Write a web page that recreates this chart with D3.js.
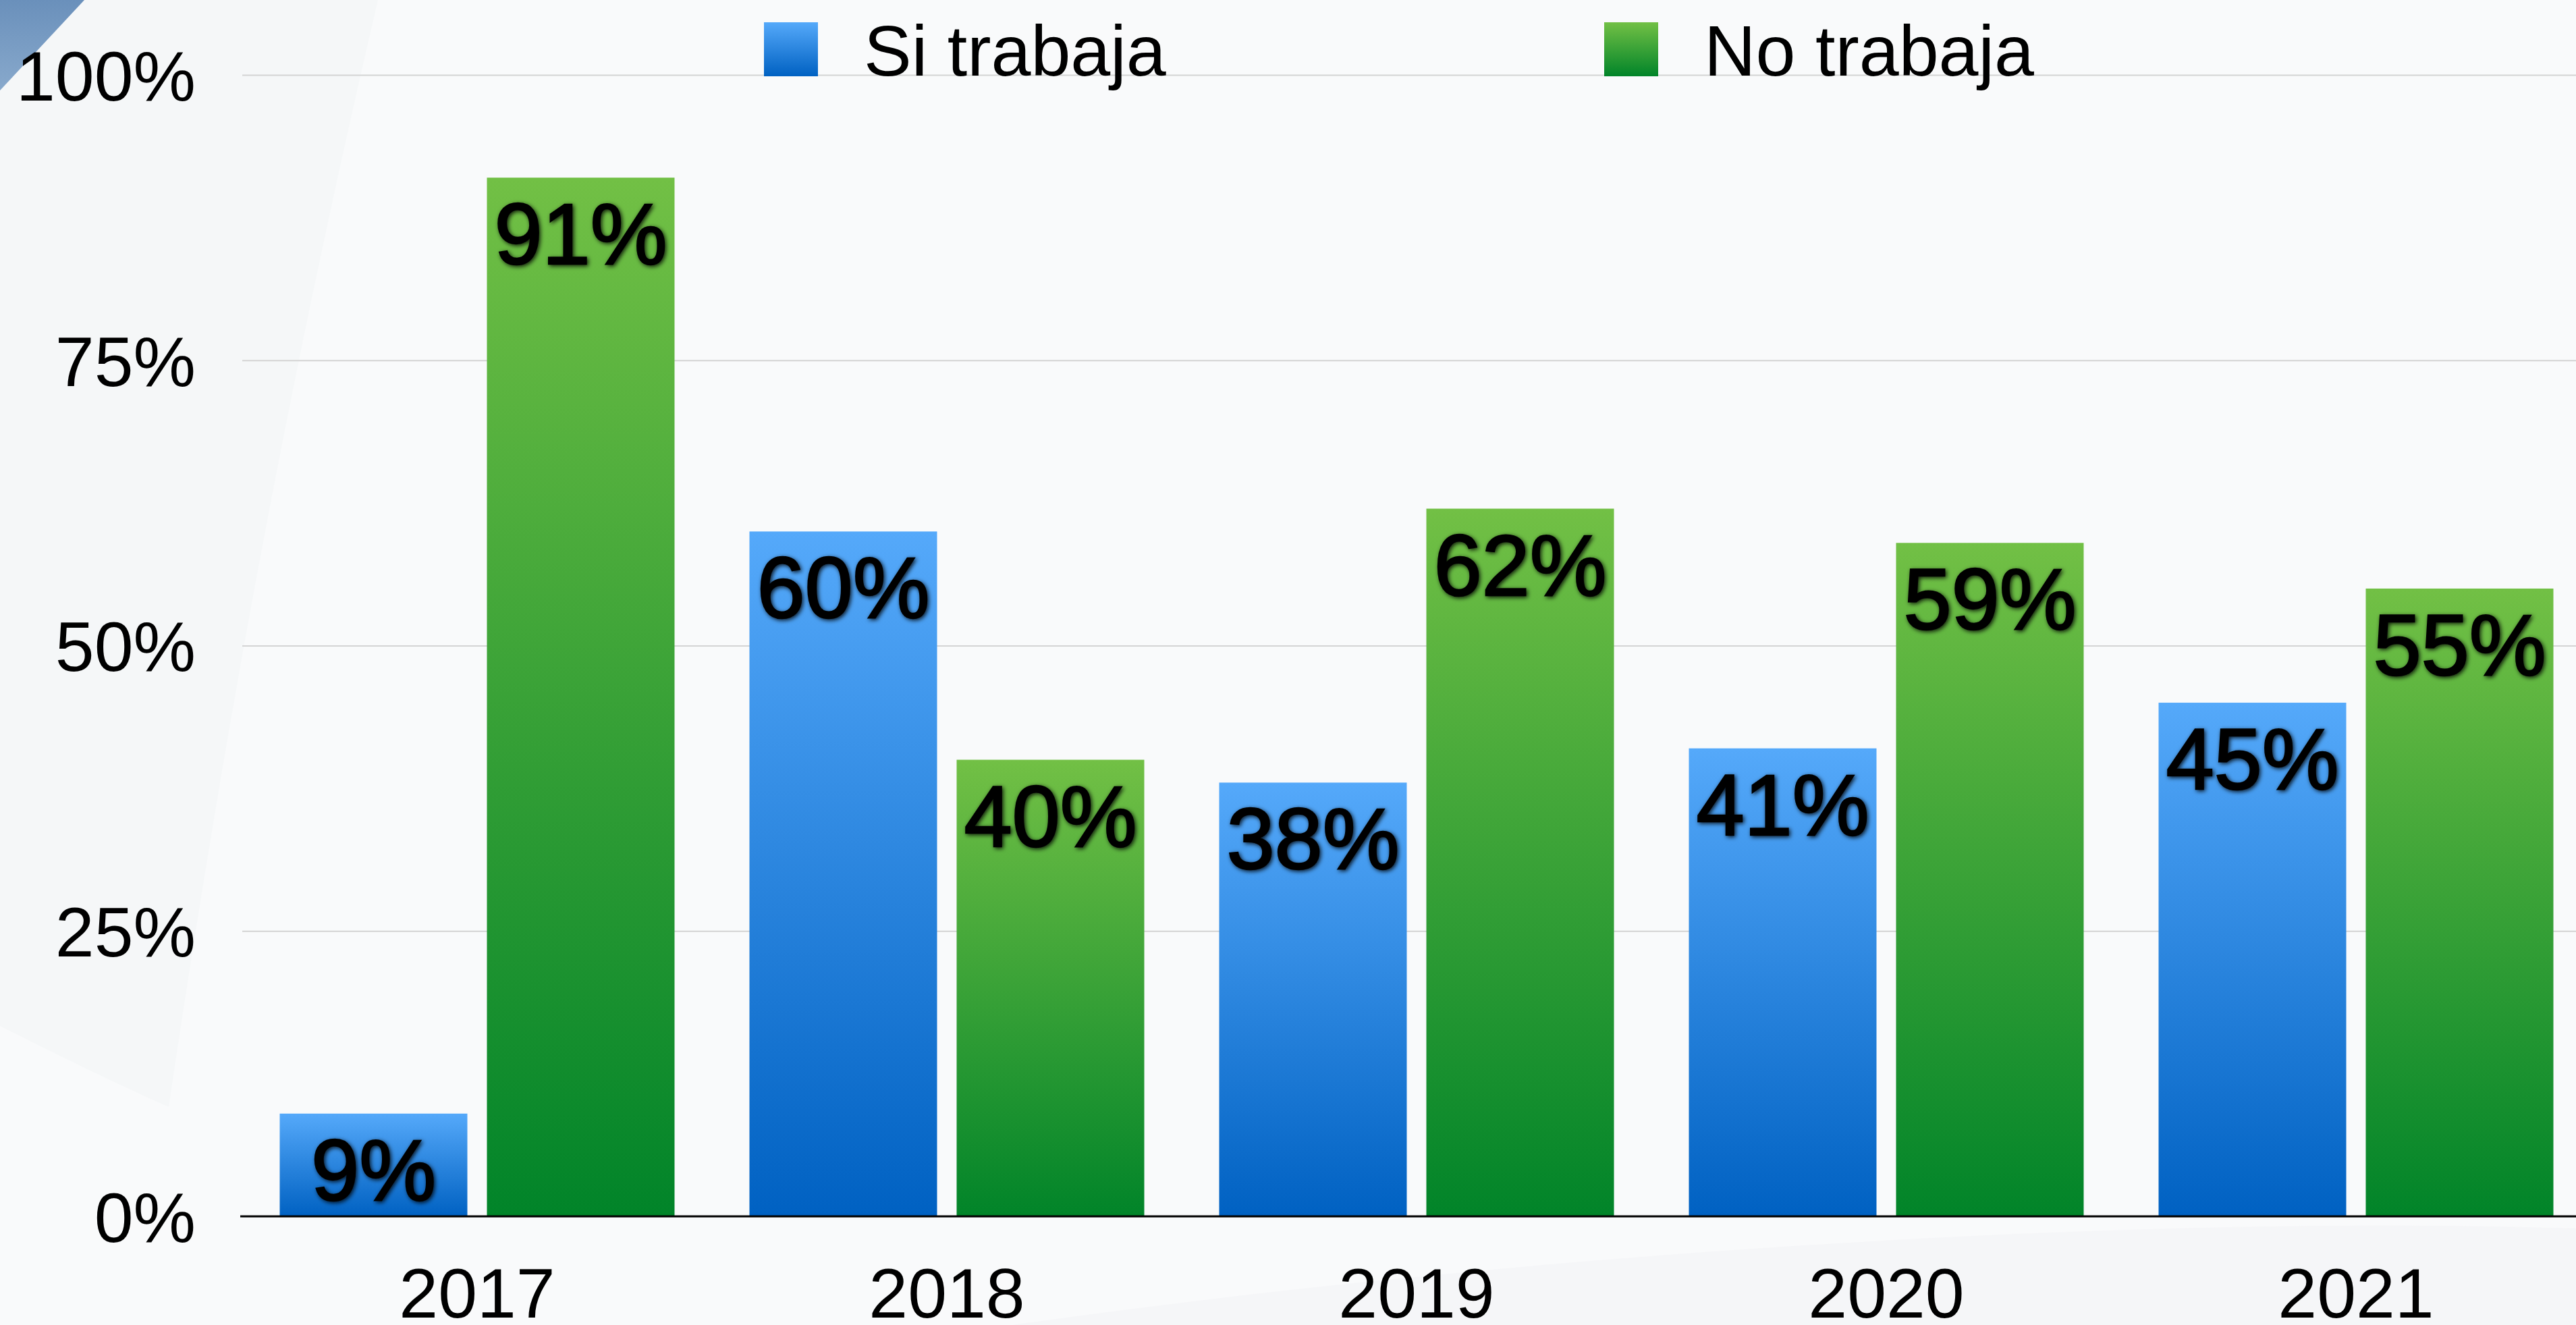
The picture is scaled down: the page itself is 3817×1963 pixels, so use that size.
<!DOCTYPE html>
<html>
<head>
<meta charset="utf-8">
<script src="https://cdn.jsdelivr.net/npm/d3@7"></script>
<style>
  html, body { margin: 0; padding: 0; overflow: hidden; background: #f8f9fa; }
  text { font-family: "Liberation Sans", Arial, Helvetica, sans-serif; }
</style>
</head>
<body>
<div id="chart"></div>
<script>
// data
var years = ["2017", "2018", "2019", "2020", "2021"];
var seriesNames = ["Si trabaja", "No trabaja"];
var siTrabaja = [9, 60, 38, 41, 45];
var noTrabaja = [91, 40, 62, 59, 55];
var yTicks = [0, 25, 50, 75, 100];

var W = 3817, H = 1963;
var margin = { top: 111, left: 359, bottom: 161 };
var plotBottom = H - margin.bottom; // 1802

var svg = d3.select("#chart").append("svg")
    .attr("width", W)
    .attr("height", H);

var defs = svg.append("defs");

// bar gradients (top light -> bottom dark)
function addGrad(id, top, bottom) {
    var g = defs.append("linearGradient")
        .attr("id", id)
        .attr("x1", 0).attr("y1", 0)
        .attr("x2", 0).attr("y2", 1);
    g.append("stop").attr("offset", "0%").attr("stop-color", top);
    g.append("stop").attr("offset", "100%").attr("stop-color", bottom);
}
addGrad("gBlue", "#55a9fa", "#0061c2");
addGrad("gGreen", "#72c045", "#018429");
addGrad("gCorner", "#6a90bb", "#88a9cc");

var shadow = defs.append("filter")
    .attr("id", "lblShadow")
    .attr("x", "-20%").attr("y", "-20%")
    .attr("width", "140%").attr("height", "140%");
shadow.append("feDropShadow")
    .attr("dx", 2).attr("dy", 2)
    .attr("stdDeviation", 3)
    .attr("flood-color", "#000")
    .attr("flood-opacity", 0.85);

// background: faint shapes + blue corner
svg.append("rect").attr("width", W).attr("height", H).attr("fill", "#f9fafb");
svg.append("path")
    .attr("d", "M0,0 L560,0 C420,600 330,1100 250,1640 C160,1600 80,1560 0,1520 Z")
    .attr("fill", "#f4f6f8")
    .attr("opacity", 0.8);
svg.append("path")
    .attr("d", "M1500,1963 C2300,1850 3200,1800 3817,1820 L3817,1963 Z")
    .attr("fill", "#f3f4f6")
    .attr("opacity", 0.7);
svg.append("path")
    .attr("d", "M0,0 L125,0 L0,134 Z")
    .attr("fill", "url(#gCorner)");

// scales
var x0 = d3.scaleBand()
    .domain(years)
    .range([margin.left, margin.left + 5 * 696])
    .paddingInner(111 / 696)
    .paddingOuter(55.5 / 696);

var x1 = d3.scaleBand()
    .domain(seriesNames)
    .range([0, x0.bandwidth()])
    .paddingInner(29 / 307)
    .paddingOuter(0);

var y = d3.scaleLinear()
    .domain([0, 100])
    .range([plotBottom, margin.top]);

var color = d3.scaleOrdinal()
    .domain(seriesNames)
    .range(["url(#gBlue)", "url(#gGreen)"]);

// y axis + gridlines
var yAxis = svg.append("g")
    .attr("transform", "translate(" + margin.left + ",0)")
    .call(d3.axisLeft(y)
        .tickValues(yTicks)
        .tickFormat(function (d) { return d + "%"; })
        .tickSize(-(W - margin.left))
        .tickPadding(69));
yAxis.select(".domain").remove();
yAxis.selectAll(".tick line")
    .attr("stroke", "#d4d4d4")
    .attr("stroke-width", 2);
yAxis.selectAll(".tick text")
    .attr("font-size", 104)
    .attr("fill", "#000")
    .attr("dy", "0.36em");

// bars
var rows = years.map(function (yr, i) {
    return { year: yr, values: [
        { key: seriesNames[0], v: siTrabaja[i] },
        { key: seriesNames[1], v: noTrabaja[i] }
    ] };
});

var groups = svg.selectAll(".grp")
    .data(rows)
    .enter().append("g")
    .attr("class", "grp")
    .attr("transform", function (d) { return "translate(" + x0(d.year) + ",0)"; });

groups.selectAll("rect")
    .data(function (d) { return d.values; })
    .enter().append("rect")
    .attr("x", function (d) { return x1(d.key); })
    .attr("y", function (d) { return y(d.v); })
    .attr("width", x1.bandwidth())
    .attr("height", function (d) { return plotBottom - y(d.v); })
    .attr("fill", function (d) { return color(d.key); });

groups.selectAll("text.lbl")
    .data(function (d) { return d.values; })
    .enter().append("text")
    .attr("class", "lbl")
    .attr("x", function (d) { return x1(d.key) + x1.bandwidth() / 2; })
    .attr("y", function (d) { return y(d.v) + 128; })
    .attr("text-anchor", "middle")
    .attr("font-size", 128)
    .attr("fill", "#000")
    .attr("stroke", "#000")
    .attr("stroke-width", 2.5)
    .attr("filter", "url(#lblShadow)")
    .text(function (d) { return d.v + "%"; });

// x axis
var xAxis = svg.append("g")
    .attr("transform", "translate(0," + plotBottom + ")")
    .call(d3.axisBottom(x0).tickSize(0).tickPadding(76));
xAxis.select(".domain")
    .attr("stroke", "#000")
    .attr("stroke-width", 3)
    .attr("d", "M" + (margin.left - 3) + ",0H" + W);
xAxis.selectAll(".tick text")
    .attr("font-size", 104)
    .attr("fill", "#000");

// legend
var legendX = [1132, 2377];
var legend = svg.selectAll(".leg")
    .data(seriesNames)
    .enter().append("g")
    .attr("class", "leg")
    .attr("transform", function (d, i) { return "translate(" + legendX[i] + ",33)"; });
legend.append("rect")
    .attr("width", 80)
    .attr("height", 80)
    .attr("fill", function (d) { return color(d); });
legend.append("text")
    .attr("x", 148)
    .attr("y", 79)
    .attr("font-size", 106)
    .attr("fill", "#000")
    .text(function (d) { return d; });
</script>
</body>
</html>
